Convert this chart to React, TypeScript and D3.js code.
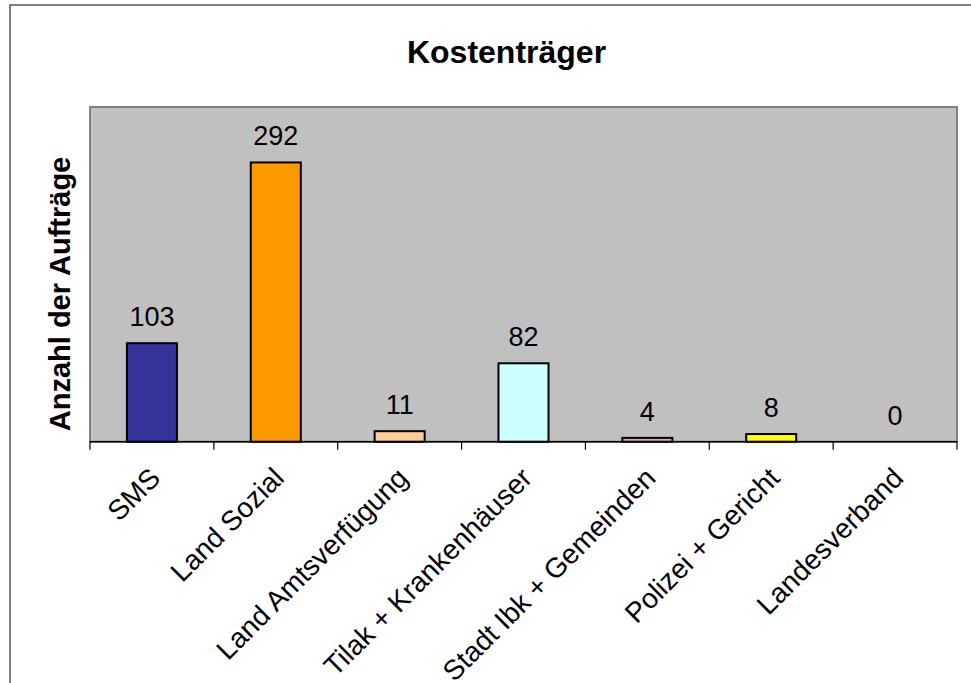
import React from "react";
import * as d3 from "d3";

const categories = [
  "SMS",
  "Land Sozial",
  "Land Amtsverfügung",
  "Tilak + Krankenhäuser",
  "Stadt Ibk + Gemeinden",
  "Polizei + Gericht",
  "Landesverband",
];
const values = [103, 292, 11, 82, 4, 8, 0];
const barColors = ["#333399", "#FF9900", "#FFCC99", "#CCFFFF", "#FF99CC", "#FFFF00", "#C0C0C0"];
const title = "Kostenträger";
const yTitle = "Anzahl der Aufträge";
const yMax = 350;

const W = 971;
const H = 683;
const plot = { left: 90, right: 957, top: 107, bottom: 441.7 };
const font = "'Liberation Sans', Arial, sans-serif";

export default function App() {
  const x = d3
    .scaleBand<string>()
    .domain(categories)
    .range([plot.left, plot.right])
    .paddingInner(0)
    .paddingOuter(0);
  const y = d3.scaleLinear().domain([0, yMax]).range([plot.bottom, plot.top]);
  const step = x.bandwidth();
  const barW = step * 0.404;

  const tickXs = categories.map((c) => x(c) as number).concat([plot.right]);

  return (
    <svg
      width={W}
      height={H}
      style={{ position: "absolute", left: 0, top: 0, background: "#fff" }}
      fontFamily={font}
    >
      {/* chart frame */}
      <rect x={10} y={5} width={W + 20} height={H + 20} fill="#fff" stroke="#555" strokeWidth={1.5} />

      <text x={506.5} y={63} textAnchor="middle" fontSize={32} fontWeight="bold" fill="#000">
        {title}
      </text>

      {/* plot area */}
      <rect
        x={plot.left}
        y={plot.top}
        width={plot.right - plot.left}
        height={plot.bottom - plot.top}
        fill="#C0C0C0"
        stroke="#808080"
        strokeWidth={2}
      />

      {/* bars */}
      {categories.map((c, i) => {
        const v = values[i];
        if (v <= 0) return null;
        const bx = (x(c) as number) + (step - barW) / 2;
        return (
          <rect
            key={c}
            x={bx}
            y={y(v)}
            width={barW}
            height={plot.bottom - y(v)}
            fill={barColors[i]}
            stroke="#000"
            strokeWidth={2}
          />
        );
      })}

      {/* x axis */}
      <line x1={plot.left} x2={plot.right} y1={plot.bottom} y2={plot.bottom} stroke="#000" strokeWidth={1.5} />
      {tickXs.map((tx, i) => (
        <line key={i} x1={tx} x2={tx} y1={plot.bottom} y2={plot.bottom + 8} stroke="#000" strokeWidth={1.2} />
      ))}

      {/* value labels */}
      {categories.map((c, i) => (
        <text
          key={c}
          x={(x(c) as number) + step / 2}
          y={y(values[i]) - 17}
          textAnchor="middle"
          fontSize={27}
          fill="#000"
        >
          {values[i]}
        </text>
      ))}

      {/* category labels */}
      {categories.map((c) => {
        const cx = (x(c) as number) + step / 2 + 10;
        const cy = plot.bottom + 38;
        return (
          <text
            key={c}
            x={cx}
            y={cy}
            textAnchor="end"
            fontSize={28}
            fill="#000"
            transform={`rotate(-45 ${cx} ${cy})`}
          >
            {c}
          </text>
        );
      })}

      {/* y axis title */}
      <text
        x={0}
        y={0}
        transform={`translate(70 294) rotate(-90)`}
        textAnchor="middle"
        fontSize={29}
        fontWeight="bold"
        fill="#000"
      >
        {yTitle}
      </text>
    </svg>
  );
}
